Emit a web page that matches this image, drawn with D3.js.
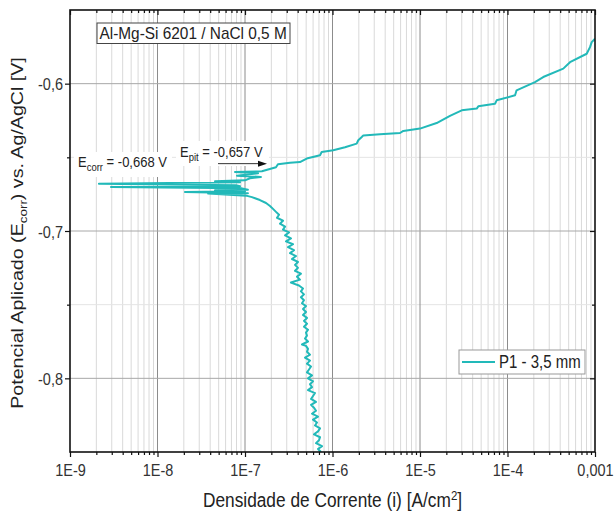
<!DOCTYPE html>
<html>
<head>
<meta charset="utf-8">
<script src="https://cdn.jsdelivr.net/npm/d3@7"></script>
<style>
  body { margin: 0; background: #fff; }
  svg { display: block; }
  text { font-family: Arial, "Liberation Sans", sans-serif; }
</style>
</head>
<body>
<svg id="chart" width="614" height="520"></svg>
<script>
// Curva de polarização potenciodinâmica — liga Al-Mg-Si 6201 em NaCl 0,5 M

// Ramo catódico (potencial em V vs. Ag/AgCl, densidade de corrente em A/cm²)
const catodicoE = [
  -0.850, -0.848, -0.846, -0.844, -0.842, -0.840, -0.838, -0.836, -0.834, -0.832,
  -0.830, -0.828, -0.826, -0.824, -0.822, -0.820, -0.818, -0.816, -0.814, -0.812,
  -0.810, -0.808, -0.806, -0.804, -0.802, -0.800, -0.798, -0.796, -0.794, -0.792,
  -0.790, -0.788, -0.786, -0.784, -0.782, -0.780, -0.778, -0.777, -0.775, -0.773,
  -0.771, -0.769, -0.767, -0.765, -0.763, -0.761, -0.759, -0.757, -0.755, -0.753,
  -0.751, -0.749, -0.747, -0.745, -0.743, -0.741, -0.739, -0.737, -0.735, -0.733,
  -0.731, -0.729, -0.727, -0.725, -0.723, -0.721, -0.719, -0.717, -0.715, -0.713,
  -0.711, -0.709, -0.707, -0.705, -0.703, -0.701, -0.699, -0.697, -0.695, -0.693,
  -0.691, -0.689, -0.687, -0.685, -0.683, -0.681, -0.679, -0.677, -0.676
];
const catodicoI = [
  7.39e-7, 6.83e-7, 7.59e-7, 6.48e-7, 7.01e-7, 7.20e-7, 6.15e-7, 6.83e-7, 7.20e-7, 6.31e-7,
  6.65e-7, 5.99e-7, 6.83e-7, 5.83e-7, 6.48e-7, 6.15e-7, 5.68e-7, 6.48e-7, 5.68e-7, 5.99e-7,
  6.31e-7, 5.25e-7, 5.83e-7, 5.53e-7, 5.99e-7, 5.25e-7, 5.83e-7, 5.11e-7, 5.39e-7, 5.68e-7,
  5.11e-7, 5.53e-7, 4.85e-7, 5.53e-7, 5.11e-7, 5.25e-7, 4.98e-7, 4.48e-7, 5.25e-7, 4.85e-7,
  5.11e-7, 4.98e-7, 5.25e-7, 4.72e-7, 5.11e-7, 4.72e-7, 5.11e-7, 4.60e-7, 4.98e-7, 4.60e-7,
  4.98e-7, 4.48e-7, 4.72e-7, 4.36e-7, 4.72e-7, 4.36e-7, 4.60e-7, 4.14e-7, 3.35e-7, 4.25e-7,
  3.93e-7, 4.36e-7, 3.73e-7, 4.03e-7, 3.73e-7, 4.03e-7, 3.44e-7, 3.83e-7, 3.27e-7, 3.63e-7,
  3.10e-7, 3.54e-7, 2.94e-7, 3.35e-7, 2.87e-7, 3.18e-7, 2.72e-7, 2.87e-7, 2.51e-7, 2.72e-7,
  2.32e-7, 2.45e-7, 2.26e-7, 2.09e-7, 1.93e-7, 1.74e-7, 1.48e-7, 1.20e-7, 1.03e-7
];

// Região do potencial de corrosão (inversão do sinal da corrente)
const transicaoE = [
  -0.6746, -0.6744, -0.6735, -0.6730, -0.6723, -0.6720, -0.6710, -0.6701, -0.6696, -0.6690,
  -0.668, -0.6669, -0.6662, -0.6656, -0.6642, -0.6633, -0.6625, -0.6608, -0.6599, -0.6595
];
const transicaoI = [
  3.78e-8, 1.08e-7, 2.06e-8, 1.00e-7, 4.54e-8, 1.08e-7, 9.00e-8, 2.94e-9, 8.77e-8, 7.89e-8,
  2.14e-9, 8.77e-8, 4.54e-8, 1.00e-7, 1.14e-7, 1.52e-7, 8.10e-8, 1.41e-7, 7.69e-8, 1.56e-7
];

// Ramo anódico
const anodicoE = [
  -0.6567, -0.6547, -0.6537, -0.6532, -0.6508, -0.6486, -0.6464, -0.6452, -0.6432, -0.6407,
  -0.6384, -0.6362, -0.6351, -0.6344, -0.6335, -0.6321, -0.6305, -0.6267, -0.6218, -0.6181,
  -0.6169, -0.6154, -0.6136, -0.6113, -0.6079, -0.6045, -0.5989, -0.5955, -0.5898, -0.5854,
  -0.5797, -0.5752, -0.5718, -0.5695
];
const anodicoI = [
  2.26e-7, 2.38e-7, 3.27e-7, 4.25e-7, 5.07e-7, 7.20e-7, 7.52e-7, 1.02e-6, 1.39e-6, 1.89e-6,
  1.97e-6, 2.16e-6, 2.25e-6, 3.49e-6, 5.91e-6, 6.45e-6, 1.00e-5, 1.55e-5, 2.20e-5, 3.00e-5,
  4.45e-5, 4.64e-5, 7.20e-5, 7.52e-5, 1.22e-4, 1.27e-4, 2.06e-4, 2.56e-4, 4.34e-4, 5.18e-4,
  8.04e-4, 8.77e-4, 9.17e-4, 1.00e-3
];

// Eixos
const xTicks = [1e-9, 1e-8, 1e-7, 1e-6, 1e-5, 1e-4, 1e-3];
const xTickLabels = ["1E-9", "1E-8", "1E-7", "1E-6", "1E-5", "1E-4", "0,001"];
const yTicks = [-0.6, -0.7, -0.8];
const yTickLabels = ["-0,6", "-0,7", "-0,8"];
const yMinorTicks = [-0.65, -0.75];

// Textos
const tituloAmostra = "Al-Mg-Si 6201 / NaCl 0,5 M";
const serieNome = "P1 - 3,5 mm";
const ecorr = -0.668;
const epit = -0.657;

const cor = "#22b9b9";
const W = 614, H = 520;
const M = { left: 70, right: 595, top: 10, bottom: 452 };
const SY = 1.18; // alongamento vertical das letras

const svg = d3.select("#chart");
svg.append("rect").attr("width", W).attr("height", H).attr("fill", "#fff");

const x = d3.scaleLog().domain([1e-9, 1e-3]).range([M.left, M.right]);
const y = d3.scaleLinear().domain([-0.85, -0.55]).range([M.bottom, M.top]);

// posições intermediárias de cada década (2..9 × 10^n)
const xMinor = [];
for (let p = -9; p < -3; p++) for (let k = 2; k <= 9; k++) xMinor.push(k * Math.pow(10, p));

// Grade
const grid = svg.append("g");
grid.selectAll(".gxm").data(xMinor).join("line")
  .attr("x1", d => x(d)).attr("x2", d => x(d))
  .attr("y1", M.top).attr("y2", M.bottom)
  .attr("stroke", "#d9d9d9").attr("stroke-width", 1);
grid.selectAll(".gym").data(yMinorTicks).join("line")
  .attr("x1", M.left).attr("x2", M.right)
  .attr("y1", d => y(d)).attr("y2", d => y(d))
  .attr("stroke", "#e4e4e4").attr("stroke-width", 1);
grid.selectAll(".gx").data(xTicks.slice(1, -1)).join("line")
  .attr("x1", d => x(d)).attr("x2", d => x(d))
  .attr("y1", M.top).attr("y2", M.bottom)
  .attr("stroke", "#8c8c8c").attr("stroke-width", 1);
grid.selectAll(".gy").data(yTicks).join("line")
  .attr("x1", M.left).attr("x2", M.right)
  .attr("y1", d => y(d)).attr("y2", d => y(d))
  .attr("stroke", "#a8a8a8").attr("stroke-width", 1);

// Fundos brancos das anotações
svg.append("rect").attr("x", 74).attr("y", 152).attr("width", 98).attr("height", 25).attr("fill", "#fff");
svg.append("rect").attr("x", 176).attr("y", 141).attr("width", 93).attr("height", 25).attr("fill", "#fff");

// Curva
const pontos = []
  .concat(catodicoE.map((e, i) => [catodicoI[i], e]))
  .concat(transicaoE.map((e, i) => [transicaoI[i], e]))
  .concat(anodicoE.map((e, i) => [anodicoI[i], e]));

svg.append("clipPath").attr("id", "area").append("rect")
  .attr("x", M.left).attr("y", M.top)
  .attr("width", M.right - M.left).attr("height", M.bottom - M.top);

svg.append("path")
  .datum(pontos)
  .attr("clip-path", "url(#area)")
  .attr("fill", "none")
  .attr("stroke", cor)
  .attr("stroke-width", 2)
  .attr("stroke-linejoin", "round")
  .attr("d", d3.line().x(d => x(d[0])).y(d => y(d[1])));

// Eixos principais e secundários
function estilo(g) {
  g.select(".domain").remove();
  g.selectAll(".tick line").attr("stroke", "#111").attr("stroke-width", 1.2);
  g.selectAll(".tick text").attr("fill", "#333").style("font-size", "14.5px");
}
svg.append("g").attr("transform", `translate(0,${M.bottom})`)
  .call(d3.axisBottom(x).tickValues(xTicks).tickFormat((d, i) => xTickLabels[i]).tickSize(5))
  .call(estilo)
  .call(g => g.selectAll(".tick text")
    .attr("y", 0).attr("dy", 0)
    .attr("transform", `translate(0,24) scale(1,${SY})`));
svg.append("g").attr("transform", `translate(0,${M.bottom})`)
  .call(d3.axisBottom(x).tickValues(xMinor).tickFormat("").tickSize(3))
  .call(estilo);
svg.append("g").attr("transform", `translate(0,${M.top})`)
  .call(d3.axisTop(x).tickValues(xTicks).tickFormat("").tickSize(-5))
  .call(estilo);
svg.append("g").attr("transform", `translate(0,${M.top})`)
  .call(d3.axisTop(x).tickValues(xMinor).tickFormat("").tickSize(-3))
  .call(estilo);
svg.append("g").attr("transform", `translate(${M.left},0)`)
  .call(d3.axisLeft(y).tickValues(yTicks).tickFormat((d, i) => yTickLabels[i]).tickSize(5))
  .call(estilo)
  .call(g => g.selectAll(".tick text")
    .attr("x", 0).attr("dy", 0)
    .attr("transform", `translate(-7,6.2) scale(1,${SY})`));
svg.append("g").attr("transform", `translate(${M.left},0)`)
  .call(d3.axisLeft(y).tickValues(yMinorTicks).tickFormat("").tickSize(3))
  .call(estilo);
svg.append("g").attr("transform", `translate(${M.right},0)`)
  .call(d3.axisRight(y).tickValues(yTicks).tickFormat("").tickSize(-5))
  .call(estilo);
svg.append("g").attr("transform", `translate(${M.right},0)`)
  .call(d3.axisRight(y).tickValues(yMinorTicks).tickFormat("").tickSize(-3))
  .call(estilo);

// Moldura
svg.append("rect")
  .attr("x", M.left).attr("y", M.top)
  .attr("width", M.right - M.left).attr("height", M.bottom - M.top)
  .attr("fill", "none").attr("stroke", "#111").attr("stroke-width", 1.6);

// Títulos dos eixos
const tx = svg.append("text")
  .attr("transform", `translate(${(M.left + M.right) / 2},507) scale(1,1.12)`)
  .attr("text-anchor", "middle").attr("fill", "#222").style("font-size", "17.3px");
tx.append("tspan").text("Densidade de Corrente (i) [A/cm");
tx.append("tspan").attr("dy", -6).style("font-size", "11.5px").text("2");
tx.append("tspan").attr("dy", 6).text("]");

const ty = svg.append("text")
  .attr("transform", `translate(23,${(M.top + M.bottom) / 2 + 2}) rotate(-90) scale(1.17,1)`)
  .attr("text-anchor", "middle").attr("fill", "#222").style("font-size", "16.8px");
ty.append("tspan").text("Potencial Aplicado (E");
ty.append("tspan").attr("dy", 4).style("font-size", "11.5px").text("corr");
ty.append("tspan").attr("dy", -4).text(") vs. Ag/AgCl [V]");

// Rótulo da amostra
svg.append("rect").attr("x", 97).attr("y", 23).attr("width", 193).attr("height", 20.5)
  .attr("fill", "#fff").attr("stroke", "#444").attr("stroke-width", 1);
svg.append("text").attr("transform", "translate(99.5,38.8) scale(1,1.1)").attr("fill", "#222")
  .style("font-size", "15.4px").text(tituloAmostra);

// Anotação E_corr
const fmt = v => v.toFixed(3).replace(".", ",");
const tc = svg.append("text").attr("transform", "translate(78,166.5) scale(1,1.08)")
  .attr("fill", "#222").style("font-size", "13px");
tc.append("tspan").text("E");
tc.append("tspan").attr("dy", 4).style("font-size", "9.5px").text("corr");
tc.append("tspan").attr("dy", -4).text(` = ${fmt(ecorr)} V`);

// Anotação E_pit com seta
const tp = svg.append("text").attr("transform", "translate(180,156.5) scale(1,1.08)")
  .attr("fill", "#222").style("font-size", "13px");
tp.append("tspan").text("E");
tp.append("tspan").attr("dy", 4).style("font-size", "9.5px").text("pit");
tp.append("tspan").attr("dy", -4).text(` = ${fmt(epit)} V`);

const ya = y(epit) - 4;
svg.append("line").attr("x1", 218).attr("x2", 261).attr("y1", ya).attr("y2", ya)
  .attr("stroke", "#333").attr("stroke-width", 1);
svg.append("path")
  .attr("d", `M267,${ya} L258,${ya - 3} L258,${ya + 3} Z`)
  .attr("fill", "#111");

// Legenda
svg.append("rect").attr("x", 459).attr("y", 350).attr("width", 126).attr("height", 24)
  .attr("fill", "#fff").attr("stroke", "#999").attr("stroke-width", 1);
svg.append("line").attr("x1", 462).attr("x2", 495).attr("y1", 362).attr("y2", 362)
  .attr("stroke", cor).attr("stroke-width", 2);
svg.append("text").attr("transform", `translate(499,368) scale(1,${SY})`).attr("fill", "#222")
  .style("font-size", "15px").text(serieNome);
</script>
</body>
</html>
